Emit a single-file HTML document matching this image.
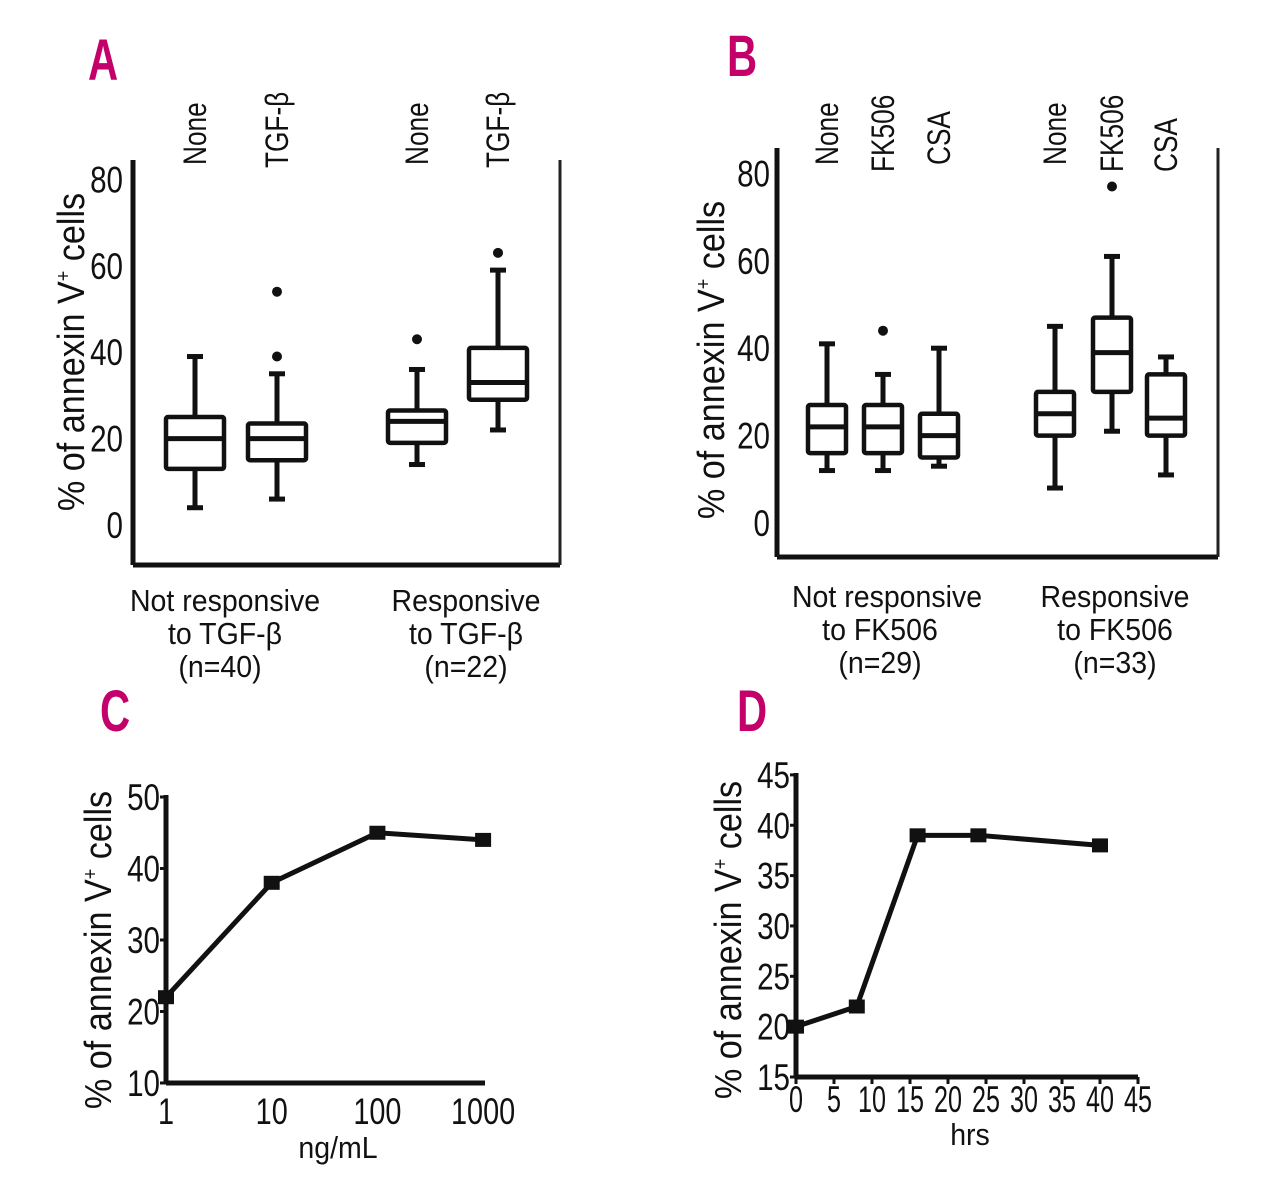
<!DOCTYPE html>
<html><head><meta charset="utf-8"><style>
html,body{margin:0;padding:0;background:#fff;}
svg{display:block;}
text{font-family:"Liberation Sans",sans-serif;fill:#111;}
.pl{font-family:"Liberation Sans",sans-serif;font-weight:bold;fill:#c4006a;font-size:58px;}
.tk{font-size:37px;}
.cat{font-size:32px;}
.ttl{font-size:38px;}
.grp{font-size:31px;}
</style></head><body>
<svg id="fig" width="1280" height="1191" viewBox="0 0 1280 1191" xmlns="http://www.w3.org/2000/svg">
<rect width="1280" height="1191" fill="#fff"/>
<text class="pl" transform="translate(88 80) scale(0.72 1)">A</text>
<text class="pl" transform="translate(727 76) scale(0.72 1)">B</text>
<text class="pl" transform="translate(100 731) scale(0.72 1)">C</text>
<text class="pl" transform="translate(737 731) scale(0.72 1)">D</text>

<g id="pa"></g>
<g id="pb"></g>
<g id="pc"></g>
<g id="pd"></g>

<text class="ttl" transform="translate(84 352) rotate(-90) scale(0.9 1)" text-anchor="middle">% of annexin V<tspan font-size="20" dy="-14">+</tspan><tspan dy="14"> cells</tspan></text>
<text class="grp" text-anchor="middle" transform="translate(225 611) scale(0.92 1)">Not responsive</text>
<text class="grp" text-anchor="middle" transform="translate(225 644) scale(0.92 1)">to TGF-β</text>
<text class="grp" text-anchor="middle" transform="translate(220 677) scale(0.92 1)">(n=40)</text>
<text class="grp" text-anchor="middle" transform="translate(466 611) scale(0.92 1)">Responsive</text>
<text class="grp" text-anchor="middle" transform="translate(466 644) scale(0.92 1)">to TGF-β</text>
<text class="grp" text-anchor="middle" transform="translate(466 677) scale(0.92 1)">(n=22)</text>

<text class="ttl" transform="translate(724 360) rotate(-90) scale(0.9 1)" text-anchor="middle">% of annexin V<tspan font-size="20" dy="-14">+</tspan><tspan dy="14"> cells</tspan></text>
<text class="grp" text-anchor="middle" transform="translate(887 607) scale(0.92 1)">Not responsive</text>
<text class="grp" text-anchor="middle" transform="translate(880 640) scale(0.92 1)">to FK506</text>
<text class="grp" text-anchor="middle" transform="translate(880 673) scale(0.92 1)">(n=29)</text>
<text class="grp" text-anchor="middle" transform="translate(1115 607) scale(0.92 1)">Responsive</text>
<text class="grp" text-anchor="middle" transform="translate(1115 640) scale(0.92 1)">to FK506</text>
<text class="grp" text-anchor="middle" transform="translate(1115 673) scale(0.92 1)">(n=33)</text>

<text class="ttl" transform="translate(111 950) rotate(-90) scale(0.9 1)" text-anchor="middle">% of annexin V<tspan font-size="20" dy="-14">+</tspan><tspan dy="14"> cells</tspan></text>
<text class="grp" text-anchor="middle" transform="translate(338 1158) scale(0.92 1)">ng/mL</text>
<text class="ttl" transform="translate(741 940) rotate(-90) scale(0.9 1)" text-anchor="middle">% of annexin V<tspan font-size="20" dy="-14">+</tspan><tspan dy="14"> cells</tspan></text>
<text class="grp" text-anchor="middle" transform="translate(970 1145) scale(0.92 1)">hrs</text>
</svg>
<script>
const NS="http://www.w3.org/2000/svg";
// ---------- Panel A data ----------
const aCats=["None","TGF-β","None","TGF-β"];
const aMin=[4,6,14,22];
const aQ1=[13,15,19,29];
const aMed=[20,20,24,33];
const aQ3=[25,23.5,26.5,41];
const aMax=[39,35,36,59];
const aOut=[[],[39,54],[43],[63]];
const aTicks=[0,20,40,60,80];
// ---------- Panel B data ----------
const bCats=["None","FK506","CSA","None","FK506","CSA"];
const bMin=[12,12,13,8,21,11];
const bQ1=[16,16,15,20,30,20];
const bMed=[22,22,20,25,39,24];
const bQ3=[27,27,25,30,47,34];
const bMax=[41,34,40,45,61,38];
const bOut=[[],[44],[],[],[77],[]];
const bTicks=[0,20,40,60,80];
// ---------- Panel C data ----------
const cDose=[1,10,100,1000];
const cVals=[22,38,45,44];
const cYTicks=[10,20,30,40,50];
const cXTicks=["1","10","100","1000"];
// ---------- Panel D data ----------
const dHrs=[0,8,16,24,40];
const dVals=[20,22,39,39,38];
const dYTicks=[15,20,25,30,35,40,45];
const dXTicks=[0,5,10,15,20,25,30,35,40,45];

function mk(tag,attrs,parent){const e=document.createElementNS(NS,tag);for(const k in attrs)e.setAttribute(k,attrs[k]);parent.appendChild(e);return e;}
function txt(parent,x,y,str,anchor,cls,sx){
  const t=mk("text",{transform:`translate(${x} ${y}) scale(${sx} 1)`,"text-anchor":anchor,class:cls},parent);
  t.textContent=str;return t;
}

function boxPanel(g,cfg){
  const {cats,mins,q1,med,q3,maxs,outs,ticks,yf,centers,half,L,R,T,B,tickX,catBottom,prefix}=cfg;
  let e=mk("line",{x1:L,y1:T,x2:L,y2:B,stroke:"#111","stroke-width":5},g);
  
  
  e=mk("line",{x1:L,y1:B,x2:R,y2:B,stroke:"#111","stroke-width":5},g);
  
  
  e=mk("line",{x1:R,y1:T,x2:R,y2:B,stroke:"#222","stroke-width":3},g);
  
  
  ticks.forEach(t=>{
    const tx=txt(g,tickX,yf(t)+13,String(t),"end","tk",0.8);
    
    
  });
  cats.forEach((c,i)=>{
    const cx=centers[i];
    const lab=mk("text",{class:"cat",transform:`translate(${cx+11} ${catBottom[i]}) rotate(-90) scale(0.82 1)`},g);
    lab.textContent=c;
    
    
    const bg=mk("g",{},g);
    
    
    mk("line",{x1:cx,y1:yf(maxs[i]),x2:cx,y2:yf(q3[i]),stroke:"#111","stroke-width":5},bg);
    mk("line",{x1:cx,y1:yf(q1[i]),x2:cx,y2:yf(mins[i]),stroke:"#111","stroke-width":5},bg);
    mk("line",{x1:cx-8,y1:yf(maxs[i]),x2:cx+8,y2:yf(maxs[i]),stroke:"#111","stroke-width":5},bg);
    mk("line",{x1:cx-8,y1:yf(mins[i]),x2:cx+8,y2:yf(mins[i]),stroke:"#111","stroke-width":5},bg);
    mk("rect",{x:cx-half,y:yf(q3[i]),width:half*2,height:yf(q1[i])-yf(q3[i]),fill:"#fff",stroke:"#111","stroke-width":4.5,rx:2},bg);
    mk("line",{x1:cx-half,y1:yf(med[i]),x2:cx+half,y2:yf(med[i]),stroke:"#111","stroke-width":5},bg);
    outs[i].forEach(o=>{
      const d=mk("circle",{cx:cx,cy:yf(o),r:5,fill:"#111"},g);
      
      
    });
  });
}

const yA=v=>525-v*4.32;
boxPanel(document.getElementById("pa"),{cats:aCats,mins:aMin,q1:aQ1,med:aMed,q3:aQ3,maxs:aMax,outs:aOut,ticks:aTicks,yf:yA,
  centers:[195,277,417,498],half:29,L:133,R:560,T:160,B:565,tickX:123,catBottom:[165,168,165,168],prefix:"a"});
const yB=v=>523-v*4.37;
boxPanel(document.getElementById("pb"),{cats:bCats,mins:bMin,q1:bQ1,med:bMed,q3:bQ3,maxs:bMax,outs:bOut,ticks:bTicks,yf:yB,
  centers:[827,883,939,1055,1112,1166],half:19,L:777,R:1218,T:148,B:557,tickX:770,catBottom:[165,172,165,165,172,172],prefix:"b"});

function linePanel(g,cfg){
  const {xs,ys,xf,yf,L,R,T,B,yticks,xtickVals,xtickLabels,ytX,xtY,prefix,xTickMarks,xsx}=cfg;
  let e=mk("line",{x1:L,y1:T,x2:L,y2:B,stroke:"#111","stroke-width":5},g);
  
  
  e=mk("line",{x1:L,y1:B,x2:R,y2:B,stroke:"#111","stroke-width":5},g);
  
  
  yticks.forEach(t=>{
    mk("line",{x1:L-6,y1:yf(t),x2:L,y2:yf(t),stroke:"#111","stroke-width":3},g);
    const tx=txt(g,ytX,yf(t)+13,String(t),"end","tk",0.8);
    
    
  });
  xtickVals.forEach((v,i)=>{
    if(xTickMarks) mk("line",{x1:xf(v),y1:B,x2:xf(v),y2:B+7,stroke:"#111","stroke-width":3},g);
    const tx=txt(g,xf(v),xtY,String(xtickLabels[i]),"middle","tk",xsx);
    
    
  });
  const pts=xs.map((x,i)=>xf(x)+","+yf(ys[i])).join(" ");
  const pl=mk("polyline",{points:pts,fill:"none",stroke:"#111","stroke-width":5,"stroke-linejoin":"round"},g);
  
  
  xs.forEach((x,i)=>{
    const m=mk("rect",{x:xf(x)-8,y:yf(ys[i])-7,width:16,height:14,fill:"#111"},g);
    
    
  });
}
const xC=v=>166+Math.log10(v)*105.7;
const yC=v=>1083-(v-10)*7.15;
linePanel(document.getElementById("pc"),{xs:cDose,ys:cVals,xf:xC,yf:yC,L:166,R:485,T:795,B:1083,yticks:cYTicks,
  xtickVals:cDose,xtickLabels:cXTicks,ytX:160,xtY:1124,prefix:"c",xTickMarks:false,xsx:0.78});
const xD=v=>796+v*7.6;
const yD=v=>1077-(v-15)*10.07;
linePanel(document.getElementById("pd"),{xs:dHrs,ys:dVals,xf:xD,yf:yD,L:796,R:1138,T:773,B:1077,yticks:dYTicks,
  xtickVals:dXTicks,xtickLabels:dXTicks,ytX:790,xtY:1112,prefix:"d",xTickMarks:true,xsx:0.68});
</script>
</body></html>
